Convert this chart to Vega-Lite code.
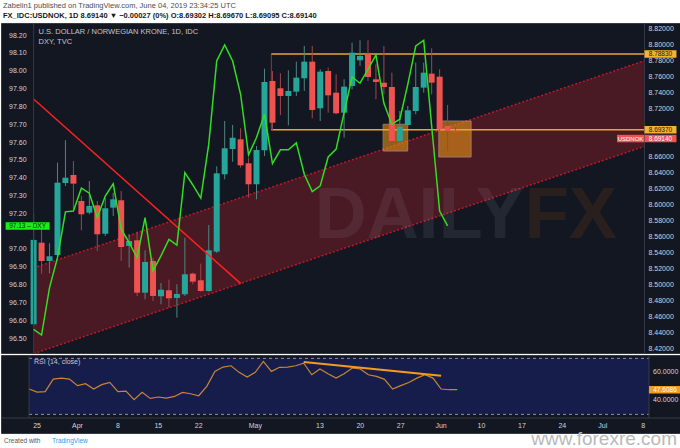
{
  "$schema": "https://vega.github.io/schema/vega-lite/v6.json",
  "background": "#ffffff",
  "padding": {"top": 2, "left": 0, "right": 0, "bottom": 0},
  "autosize": {"type": "pad"},
  "spacing": 0,
  "title": {
    "text": "Zabelin1 published on TradingView.com, June 04, 2019 23:34:25 UTC",
    "subtitle": "FX_IDC:USDNOK, 1D  8.69140 ▼ −0.00027 (0%)  O:8.69302  H:8.69670  L:8.69095  C:8.69140",
    "anchor": "start", "frame": "bounds", "dx": 3, "offset": 3,
    "font": "Liberation Sans", "fontSize": 7.5, "fontWeight": "normal", "color": "#4a4d57",
    "subtitleFont": "Liberation Sans", "subtitleFontSize": 7.5, "subtitleFontWeight": "bold", "subtitleColor": "#131722", "subtitlePadding": 2
  },
  "config": {
    "view": {"fill": "#131722", "stroke": "#363a45", "strokeWidth": 1},
    "axis": {"gridColor": "#2b2f3b"}
  },
  "datasets": {
    "candles": [
      {"date":"2019-03-22","i":-1,"o":8.4505,"h":8.5884,"l":8.448,"c":8.556,"dxy":96.552,"rsi":48.1},
      {"date":"2019-03-25","i":0,"o":8.5525,"h":8.5734,"l":8.5138,"c":8.5296,"dxy":96.52,"rsi":45.9},
      {"date":"2019-03-26","i":1,"o":8.5296,"h":8.5518,"l":8.5142,"c":8.5355,"dxy":96.786,"rsi":46.2},
      {"date":"2019-03-27","i":2,"o":8.5371,"h":8.6525,"l":8.5337,"c":8.6275,"dxy":96.954,"rsi":55.2},
      {"date":"2019-03-28","i":3,"o":8.6271,"h":8.6805,"l":8.6234,"c":8.6337,"dxy":97.211,"rsi":55.9},
      {"date":"2019-03-29","i":4,"o":8.6371,"h":8.6546,"l":8.5921,"c":8.6263,"dxy":97.216,"rsi":55.2},
      {"date":"2019-04-01","i":5,"o":8.6046,"h":8.6109,"l":8.568,"c":8.588,"dxy":97.344,"rsi":50.5},
      {"date":"2019-04-02","i":6,"o":8.59,"h":8.6296,"l":8.588,"c":8.5984,"dxy":97.316,"rsi":51.9},
      {"date":"2019-04-03","i":7,"o":8.5992,"h":8.6046,"l":8.5421,"c":8.563,"dxy":97.179,"rsi":48.1},
      {"date":"2019-04-04","i":8,"o":8.5637,"h":8.6088,"l":8.5609,"c":8.5955,"dxy":97.3,"rsi":51.2},
      {"date":"2019-04-05","i":9,"o":8.5963,"h":8.615,"l":8.5859,"c":8.6067,"dxy":97.369,"rsi":52.8},
      {"date":"2019-04-08","i":10,"o":8.6055,"h":8.6171,"l":8.5296,"c":8.5471,"dxy":97.114,"rsi":46.2},
      {"date":"2019-04-09","i":11,"o":8.5484,"h":8.563,"l":8.5213,"c":8.5546,"dxy":97.038,"rsi":46.6},
      {"date":"2019-04-10","i":12,"o":8.5555,"h":8.5663,"l":8.4859,"c":8.49,"dxy":96.954,"rsi":40.5},
      {"date":"2019-04-11","i":13,"o":8.49,"h":8.543,"l":8.4817,"c":8.5284,"dxy":97.179,"rsi":45.7},
      {"date":"2019-04-12","i":14,"o":8.5296,"h":8.5337,"l":8.4796,"c":8.4859,"dxy":96.88,"rsi":41.4},
      {"date":"2019-04-15","i":15,"o":8.4855,"h":8.5021,"l":8.4755,"c":8.4937,"dxy":96.964,"rsi":42.4},
      {"date":"2019-04-16","i":16,"o":8.493,"h":8.5063,"l":8.4713,"c":8.483,"dxy":97.057,"rsi":41.6},
      {"date":"2019-04-17","i":17,"o":8.4834,"h":8.5005,"l":8.4588,"c":8.4884,"dxy":97.025,"rsi":42.8},
      {"date":"2019-04-18","i":18,"o":8.488,"h":8.5588,"l":8.4859,"c":8.513,"dxy":97.431,"rsi":45.7},
      {"date":"2019-04-19","i":19,"o":8.5138,"h":8.515,"l":8.5005,"c":8.5038,"dxy":97.362,"rsi":44.7},
      {"date":"2019-04-22","i":20,"o":8.5055,"h":8.5263,"l":8.4913,"c":8.4921,"dxy":97.288,"rsi":43.3},
      {"date":"2019-04-23","i":21,"o":8.4921,"h":8.5746,"l":8.4913,"c":8.543,"dxy":97.591,"rsi":50.0},
      {"date":"2019-04-24","i":22,"o":8.5413,"h":8.648,"l":8.5396,"c":8.6392,"dxy":98.058,"rsi":60.7},
      {"date":"2019-04-25","i":23,"o":8.638,"h":8.7046,"l":8.6317,"c":8.6705,"dxy":98.148,"rsi":63.8},
      {"date":"2019-04-26","i":24,"o":8.6696,"h":8.6996,"l":8.6537,"c":8.6837,"dxy":98.058,"rsi":64.7},
      {"date":"2019-04-29","i":25,"o":8.6817,"h":8.6955,"l":8.6463,"c":8.6492,"dxy":97.871,"rsi":60.0},
      {"date":"2019-04-30","i":26,"o":8.6517,"h":8.6587,"l":8.6088,"c":8.6255,"dxy":97.531,"rsi":56.6},
      {"date":"2019-05-01","i":27,"o":8.6255,"h":8.6734,"l":8.6067,"c":8.6684,"dxy":97.628,"rsi":60.0},
      {"date":"2019-05-02","i":28,"o":8.668,"h":8.77,"l":8.6609,"c":8.7534,"dxy":97.759,"rsi":67.8},
      {"date":"2019-05-03","i":29,"o":8.7546,"h":8.7671,"l":8.6921,"c":8.7025,"dxy":97.482,"rsi":60.7},
      {"date":"2019-05-06","i":30,"o":8.7455,"h":8.7643,"l":8.7121,"c":8.7359,"dxy":97.559,"rsi":63.6},
      {"date":"2019-05-07","i":31,"o":8.7359,"h":8.768,"l":8.6993,"c":8.7421,"dxy":97.559,"rsi":63.8},
      {"date":"2019-05-08","i":32,"o":8.7413,"h":8.7788,"l":8.7359,"c":8.7588,"dxy":97.598,"rsi":64.7},
      {"date":"2019-05-09","i":33,"o":8.758,"h":8.7984,"l":8.7421,"c":8.7788,"dxy":97.422,"rsi":66.6},
      {"date":"2019-05-10","i":34,"o":8.7788,"h":8.7984,"l":8.708,"c":8.7184,"dxy":97.325,"rsi":58.3},
      {"date":"2019-05-13","i":35,"o":8.7205,"h":8.7693,"l":8.7046,"c":8.7663,"dxy":97.357,"rsi":62.4},
      {"date":"2019-05-14","i":36,"o":8.7671,"h":8.7713,"l":8.715,"c":8.7367,"dxy":97.519,"rsi":59.0},
      {"date":"2019-05-15","i":37,"o":8.74,"h":8.763,"l":8.713,"c":8.7142,"dxy":97.563,"rsi":55.9},
      {"date":"2019-05-16","i":38,"o":8.715,"h":8.7567,"l":8.6838,"c":8.7475,"dxy":97.768,"rsi":59.0},
      {"date":"2019-05-17","i":39,"o":8.7484,"h":8.8025,"l":8.7442,"c":8.79,"dxy":97.968,"rsi":63.1},
      {"date":"2019-05-20","i":40,"o":8.7805,"h":8.8055,"l":8.7734,"c":8.7859,"dxy":97.933,"rsi":62.4},
      {"date":"2019-05-21","i":41,"o":8.788,"h":8.8055,"l":8.7546,"c":8.7596,"dxy":98.011,"rsi":58.3},
      {"date":"2019-05-22","i":42,"o":8.7567,"h":8.7755,"l":8.7317,"c":8.7534,"dxy":98.092,"rsi":57.1},
      {"date":"2019-05-23","i":43,"o":8.7525,"h":8.7984,"l":8.738,"c":8.7471,"dxy":97.82,"rsi":55.0},
      {"date":"2019-05-24","i":44,"o":8.7471,"h":8.765,"l":8.6775,"c":8.6796,"dxy":97.703,"rsi":48.1},
      {"date":"2019-05-27","i":45,"o":8.6796,"h":8.7171,"l":8.6755,"c":8.6975,"dxy":97.731,"rsi":50.5},
      {"date":"2019-05-28","i":46,"o":8.6996,"h":8.7234,"l":8.6984,"c":8.718,"dxy":97.927,"rsi":52.8},
      {"date":"2019-05-29","i":47,"o":8.7171,"h":8.7775,"l":8.713,"c":8.7471,"dxy":98.142,"rsi":55.9},
      {"date":"2019-05-30","i":48,"o":8.7463,"h":8.7775,"l":8.74,"c":8.765,"dxy":98.174,"rsi":58.3},
      {"date":"2019-05-31","i":49,"o":8.7638,"h":8.7955,"l":8.738,"c":8.7525,"dxy":97.693,"rsi":55.9},
      {"date":"2019-06-03","i":50,"o":8.76,"h":8.7693,"l":8.6921,"c":8.6942,"dxy":97.216,"rsi":48.1},
      {"date":"2019-06-04","i":51,"o":8.6984,"h":8.7246,"l":8.6671,"c":8.6921,"dxy":97.132,"rsi":47.6},
      {"date":"2019-06-05","i":52,"o":8.69302,"h":8.6967,"l":8.69095,"c":8.6914,"dxy":null,"rsi":47.6}
    ],
    "channel": [{"i":-1.0,"upper":8.5209,"lower":8.4138},{"i":75.73,"upper":8.78,"lower":8.6729}],
    "trend": [{"i":-0.97,"v":8.7318},{"i":25.02,"v":8.5013}],
    "levels": [{"i1":28.86,"i2":75.73,"v":8.7883,"label":"8.78830"},{"i1":28.86,"i2":75.73,"v":8.6937,"label":"8.69370"}],
    "zone": [{"i":28.86,"top":8.7883,"bottom":8.6937}],
    "boxes": [{"i1":42.9,"i2":45.99,"top":8.7005,"bottom":8.6671},{"i1":49.9,"i2":53.95,"top":8.7046,"bottom":8.6596}],
    "last": [{"v":8.6914,"label":"8.69140","symbol":"USDNOK"}],
    "dxyLast": [{"v":97.132,"label":"97.13 – DXY"}],
    "rsiTrend": [{"i":33,"v":67.4},{"i":50,"v":57.6}],
    "rsiBand": [{"hi":70,"lo":30}],
    "rsiLast": [{"v":47.6,"label":"47.6086"}],
    "ticksR": [{"v":8.42},{"v":8.44},{"v":8.46},{"v":8.48},{"v":8.5},{"v":8.52},{"v":8.54},{"v":8.56},{"v":8.58},{"v":8.6},{"v":8.62},{"v":8.64},{"v":8.66},{"v":8.72},{"v":8.74},{"v":8.76},{"v":8.78},{"v":8.8},{"v":8.82}],
    "ticksL": [{"v":96.5},{"v":96.6},{"v":96.7},{"v":96.8},{"v":96.9},{"v":97.0},{"v":97.2},{"v":97.3},{"v":97.4},{"v":97.5},{"v":97.6},{"v":97.7},{"v":97.8},{"v":97.9},{"v":98.0},{"v":98.1},{"v":98.2}],
    "ticksRsi": [{"v":40},{"v":60}],
    "ticksX": [{"i":0,"label":"25"},{"i":5,"label":"Apr"},{"i":10,"label":"8"},{"i":15,"label":"15"},{"i":20,"label":"22"},{"i":27,"label":"May"},{"i":35,"label":"13"},{"i":40,"label":"20"},{"i":45,"label":"27"},{"i":50,"label":"Jun"},{"i":55,"label":"10"},{"i":60,"label":"17"},{"i":65,"label":"24"},{"i":70,"label":"Jul"},{"i":75,"label":"8"}]
  },
  "vconcat": [
    {
      "width": 680, "height": 330,
      "resolve": {"scale": {"y": "independent"}},
      "layer": [
        {
          "layer": [
            {
              "data": {"name": "channel"},
              "mark": {"type": "area", "color": "#c81e2a", "opacity": 0.3, "clip": true},
              "encoding": {
                "x": {"field": "i", "type": "quantitative", "scale": {"domain": [-4.468, 79.69], "nice": false, "zero": false}, "axis": null},
                "y": {"field": "upper", "type": "quantitative", "scale": {"domain": [8.4146, 8.8271], "nice": false, "zero": false},
                      "axis": {"orient": "right", "labels": false, "ticks": false, "domain": false, "grid": true, "title": null,
                               "values": [8.42,8.44,8.46,8.48,8.5,8.52,8.54,8.56,8.58,8.6,8.62,8.64,8.66,8.68,8.7,8.72,8.74,8.76,8.78,8.8,8.82]}},
                "y2": {"field": "lower"}
              }
            },
            {
              "data": {"name": "channel"},
              "mark": {"type": "line", "color": "#c0182a", "strokeDash": [2, 2], "strokeWidth": 1.5, "clip": true},
              "encoding": {
                "x": {"field": "i", "type": "quantitative", "scale": {"domain": [-4.468, 79.69], "nice": false, "zero": false}, "axis": null},
                "y": {"field": "upper", "type": "quantitative", "scale": {"domain": [8.4146, 8.8271], "nice": false, "zero": false}, "axis": null}
              }
            },
            {
              "data": {"name": "channel"},
              "mark": {"type": "line", "color": "#c0182a", "strokeDash": [2, 2], "strokeWidth": 1.5, "clip": true},
              "encoding": {
                "x": {"field": "i", "type": "quantitative", "scale": {"domain": [-4.468, 79.69], "nice": false, "zero": false}, "axis": null},
                "y": {"field": "lower", "type": "quantitative", "scale": {"domain": [8.4146, 8.8271], "nice": false, "zero": false}, "axis": null}
              }
            },
            {
              "data": {"values": [{}]},
              "mark": {"type": "text", "text": "DAILY", "font": "Liberation Sans", "fontWeight": "bold", "fontSize": 72, "align": "right", "baseline": "middle", "color": "#ffffff", "opacity": 0.065},
              "encoding": {
                "x": {"datum": 60.6, "type": "quantitative", "scale": {"domain": [-4.468, 79.69], "nice": false, "zero": false}, "axis": null},
                "y": {"datum": 8.586, "type": "quantitative", "scale": {"domain": [8.4146, 8.8271], "nice": false, "zero": false}, "axis": null}
              }
            },
            {
              "data": {"values": [{}]},
              "mark": {"type": "text", "text": "FX", "font": "Liberation Sans", "fontWeight": "bold", "fontSize": 72, "align": "left", "baseline": "middle", "color": "#ff7a00", "opacity": 0.09},
              "encoding": {
                "x": {"datum": 60.7, "type": "quantitative", "scale": {"domain": [-4.468, 79.69], "nice": false, "zero": false}, "axis": null},
                "y": {"datum": 8.586, "type": "quantitative", "scale": {"domain": [8.4146, 8.8271], "nice": false, "zero": false}, "axis": null}
              }
            },
            {
              "data": {"name": "boxes"},
              "mark": {"type": "rect", "color": "#f39c12", "opacity": 0.55, "stroke": "#ecc7a8", "strokeWidth": 1, "strokeOpacity": 1},
              "encoding": {
                "x": {"field": "i1", "type": "quantitative", "scale": {"domain": [-4.468, 79.69], "nice": false, "zero": false}, "axis": null},
                "x2": {"field": "i2"},
                "y": {"field": "top", "type": "quantitative", "scale": {"domain": [8.4146, 8.8271], "nice": false, "zero": false}, "axis": null},
                "y2": {"field": "bottom"}
              }
            },
            {
              "data": {"name": "zone"},
              "mark": {"type": "rule", "color": "#8c3a32", "strokeWidth": 1},
              "encoding": {
                "x": {"field": "i", "type": "quantitative", "scale": {"domain": [-4.468, 79.69], "nice": false, "zero": false}, "axis": null},
                "y": {"field": "top", "type": "quantitative", "scale": {"domain": [8.4146, 8.8271], "nice": false, "zero": false}, "axis": null},
                "y2": {"field": "bottom"}
              }
            },
            {
              "data": {"name": "levels"},
              "mark": {"type": "rule", "color": "#e6a634", "strokeWidth": 1.5},
              "encoding": {
                "x": {"field": "i1", "type": "quantitative", "scale": {"domain": [-4.468, 79.69], "nice": false, "zero": false}, "axis": null},
                "x2": {"field": "i2"},
                "y": {"field": "v", "type": "quantitative", "scale": {"domain": [8.4146, 8.8271], "nice": false, "zero": false}, "axis": null}
              }
            },
            {
              "data": {"name": "candles"},
              "mark": {"type": "rule", "strokeWidth": 1, "clip": true},
              "encoding": {
                "x": {"field": "i", "type": "quantitative", "scale": {"domain": [-4.468, 79.69], "nice": false, "zero": false}, "axis": null},
                "y": {"field": "l", "type": "quantitative", "scale": {"domain": [8.4146, 8.8271], "nice": false, "zero": false}, "axis": null},
                "y2": {"field": "h"},
                "color": {"condition": {"test": "datum.c >= datum.o", "value": "#4f8582"}, "value": "#a3454b"}
              }
            },
            {
              "data": {"name": "candles"},
              "mark": {"type": "bar", "width": 6, "clip": true},
              "encoding": {
                "x": {"field": "i", "type": "quantitative", "scale": {"domain": [-4.468, 79.69], "nice": false, "zero": false},
                      "axis": {"values": [0,5,10,15,20,27,35,40,45,50,55,60,65,70,75], "grid": true, "labels": false, "domain": false, "ticks": false, "title": null}},
                "y": {"field": "o", "type": "quantitative", "scale": {"domain": [8.4146, 8.8271], "nice": false, "zero": false}, "axis": null},
                "y2": {"field": "c"},
                "color": {"condition": {"test": "datum.c >= datum.o", "value": "#26a69a"}, "value": "#ef5350"}
              }
            },
            {
              "data": {"name": "trend"},
              "mark": {"type": "line", "color": "#ff2020", "strokeWidth": 1.5},
              "encoding": {
                "x": {"field": "i", "type": "quantitative", "scale": {"domain": [-4.468, 79.69], "nice": false, "zero": false}, "axis": null},
                "y": {"field": "v", "type": "quantitative", "scale": {"domain": [8.4146, 8.8271], "nice": false, "zero": false}, "axis": null}
              }
            },
            {
              "data": {"values": [{}]},
              "mark": {"type": "rule", "color": "#363a45", "strokeWidth": 1},
              "encoding": {
                "x": {"datum": -1.0, "type": "quantitative", "scale": {"domain": [-4.468, 79.69], "nice": false, "zero": false}, "axis": null}
              }
            },
            {
              "data": {"values": [{}]},
              "mark": {"type": "rule", "color": "#363a45", "strokeWidth": 1},
              "encoding": {
                "x": {"datum": 75.73, "type": "quantitative", "scale": {"domain": [-4.468, 79.69], "nice": false, "zero": false}, "axis": null}
              }
            },
            {
              "data": {"name": "ticksR"},
              "mark": {"type": "text", "dx": 4, "fontSize": 7, "font": "Liberation Sans", "color": "#d1d4dc", "align": "left", "baseline": "middle"},
              "encoding": {
                "x": {"datum": 75.73, "type": "quantitative", "scale": {"domain": [-4.468, 79.69], "nice": false, "zero": false}, "axis": null},
                "y": {"field": "v", "type": "quantitative", "scale": {"domain": [8.4146, 8.8271], "nice": false, "zero": false}, "axis": null},
                "text": {"field": "v", "type": "quantitative", "format": ".5f"}
              }
            },
            {
              "data": {"name": "levels"},
              "mark": {"type": "point", "shape": "M-1,-0.234H1V0.234H-1Z", "size": 1024, "filled": true, "opacity": 1, "color": "#f2b233", "xOffset": 16},
              "encoding": {
                "x": {"datum": 75.73, "type": "quantitative", "scale": {"domain": [-4.468, 79.69], "nice": false, "zero": false}, "axis": null},
                "y": {"field": "v", "type": "quantitative", "scale": {"domain": [8.4146, 8.8271], "nice": false, "zero": false}, "axis": null}
              }
            },
            {
              "data": {"name": "levels"},
              "mark": {"type": "text", "xOffset": 16, "fontSize": 6.5, "font": "Liberation Sans", "color": "#131722", "align": "center", "baseline": "middle"},
              "encoding": {
                "x": {"datum": 75.73, "type": "quantitative", "scale": {"domain": [-4.468, 79.69], "nice": false, "zero": false}, "axis": null},
                "y": {"field": "v", "type": "quantitative", "scale": {"domain": [8.4146, 8.8271], "nice": false, "zero": false}, "axis": null},
                "text": {"field": "label"}
              }
            },
            {
              "data": {"name": "last"},
              "mark": {"type": "point", "shape": "M-1,-0.234H1V0.234H-1Z", "size": 1024, "filled": true, "opacity": 1, "color": "#ef5350", "xOffset": 16, "yOffset": 7},
              "encoding": {
                "x": {"datum": 75.73, "type": "quantitative", "scale": {"domain": [-4.468, 79.69], "nice": false, "zero": false}, "axis": null},
                "y": {"field": "v", "type": "quantitative", "scale": {"domain": [8.4146, 8.8271], "nice": false, "zero": false}, "axis": null}
              }
            },
            {
              "data": {"name": "last"},
              "mark": {"type": "text", "xOffset": 16, "yOffset": 7, "fontSize": 6.5, "font": "Liberation Sans", "color": "#ffffff", "align": "center", "baseline": "middle"},
              "encoding": {
                "x": {"datum": 75.73, "type": "quantitative", "scale": {"domain": [-4.468, 79.69], "nice": false, "zero": false}, "axis": null},
                "y": {"field": "v", "type": "quantitative", "scale": {"domain": [8.4146, 8.8271], "nice": false, "zero": false}, "axis": null},
                "text": {"field": "label"}
              }
            },
            {
              "data": {"name": "last"},
              "mark": {"type": "point", "shape": "M-1,-0.278H1V0.278H-1Z", "size": 729, "filled": true, "opacity": 1, "color": "#ef5350", "xOffset": -14, "yOffset": 7},
              "encoding": {
                "x": {"datum": 75.73, "type": "quantitative", "scale": {"domain": [-4.468, 79.69], "nice": false, "zero": false}, "axis": null},
                "y": {"field": "v", "type": "quantitative", "scale": {"domain": [8.4146, 8.8271], "nice": false, "zero": false}, "axis": null}
              }
            },
            {
              "data": {"name": "last"},
              "mark": {"type": "text", "xOffset": -14, "yOffset": 7, "fontSize": 6, "font": "Liberation Sans", "color": "#ffffff", "align": "center", "baseline": "middle"},
              "encoding": {
                "x": {"datum": 75.73, "type": "quantitative", "scale": {"domain": [-4.468, 79.69], "nice": false, "zero": false}, "axis": null},
                "y": {"field": "v", "type": "quantitative", "scale": {"domain": [8.4146, 8.8271], "nice": false, "zero": false}, "axis": null},
                "text": {"field": "symbol"}
              }
            },
            {
              "data": {"values": [{}]},
              "mark": {"type": "text", "text": "U.S. DOLLAR / NORWEGIAN KRONE, 1D, IDC", "dx": 5, "fontSize": 7.5, "font": "Liberation Sans", "color": "#c3c6ce", "align": "left", "baseline": "middle"},
              "encoding": {
                "x": {"datum": -1.0, "type": "quantitative", "scale": {"domain": [-4.468, 79.69], "nice": false, "zero": false}, "axis": null},
                "y": {"datum": 8.8159, "type": "quantitative", "scale": {"domain": [8.4146, 8.8271], "nice": false, "zero": false}, "axis": null}
              }
            },
            {
              "data": {"values": [{}]},
              "mark": {"type": "text", "text": "DXY, TVC", "dx": 5, "fontSize": 7.5, "font": "Liberation Sans", "color": "#c3c6ce", "align": "left", "baseline": "middle"},
              "encoding": {
                "x": {"datum": -1.0, "type": "quantitative", "scale": {"domain": [-4.468, 79.69], "nice": false, "zero": false}, "axis": null},
                "y": {"datum": 8.8034, "type": "quantitative", "scale": {"domain": [8.4146, 8.8271], "nice": false, "zero": false}, "axis": null}
              }
            }
          ]
        },
        {
          "layer": [
            {
              "data": {"name": "candles"},
              "mark": {"type": "line", "color": "#33dd22", "strokeWidth": 1.5},
              "encoding": {
                "x": {"field": "i", "type": "quantitative", "scale": {"domain": [-4.468, 79.69], "nice": false, "zero": false}, "axis": null},
                "y": {"field": "dxy", "type": "quantitative", "scale": {"domain": [96.419, 98.271], "nice": false, "zero": false}, "axis": null}
              }
            },
            {
              "data": {"name": "ticksL"},
              "mark": {"type": "text", "dx": -7, "fontSize": 7, "font": "Liberation Sans", "color": "#d1d4dc", "align": "right", "baseline": "middle"},
              "encoding": {
                "x": {"datum": -1.0, "type": "quantitative", "scale": {"domain": [-4.468, 79.69], "nice": false, "zero": false}, "axis": null},
                "y": {"field": "v", "type": "quantitative", "scale": {"domain": [96.419, 98.271], "nice": false, "zero": false}, "axis": null},
                "text": {"field": "v", "type": "quantitative", "format": ".2f"}
              }
            },
            {
              "data": {"name": "dxyLast"},
              "mark": {"type": "point", "shape": "M-1,-0.173H1V0.173H-1Z", "size": 1936, "filled": true, "opacity": 1, "color": "#19ee19", "xOffset": -6},
              "encoding": {
                "x": {"datum": -1.0, "type": "quantitative", "scale": {"domain": [-4.468, 79.69], "nice": false, "zero": false}, "axis": null},
                "y": {"field": "v", "type": "quantitative", "scale": {"domain": [96.419, 98.271], "nice": false, "zero": false}, "axis": null}
              }
            },
            {
              "data": {"name": "dxyLast"},
              "mark": {"type": "text", "xOffset": -6, "fontSize": 6.5, "font": "Liberation Sans", "color": "#0b2b0b", "align": "center", "baseline": "middle"},
              "encoding": {
                "x": {"datum": -1.0, "type": "quantitative", "scale": {"domain": [-4.468, 79.69], "nice": false, "zero": false}, "axis": null},
                "y": {"field": "v", "type": "quantitative", "scale": {"domain": [96.419, 98.271], "nice": false, "zero": false}, "axis": null},
                "text": {"field": "label"}
              }
            }
          ]
        }
      ]
    },
    {
      "width": 680, "height": 78,
      "layer": [
        {
          "data": {"name": "rsiBand"},
          "mark": {"type": "rect", "color": "#1e2aa0", "opacity": 0.33},
          "encoding": {
            "x": {"datum": -1.0, "type": "quantitative", "scale": {"domain": [-4.468, 79.69], "nice": false, "zero": false}, "axis": null},
            "x2": {"datum": 75.73},
            "y": {"field": "hi", "type": "quantitative", "scale": {"domain": [16.69, 72.4], "nice": false, "zero": false}, "axis": null},
            "y2": {"field": "lo"}
          }
        },
        {
          "data": {"name": "rsiBand"},
          "mark": {"type": "rule", "color": "#8f929b", "strokeWidth": 1, "strokeDash": [3, 3]},
          "encoding": {
            "x": {"datum": -1.0, "type": "quantitative", "scale": {"domain": [-4.468, 79.69], "nice": false, "zero": false}, "axis": null},
            "x2": {"datum": 75.73},
            "y": {"field": "hi", "type": "quantitative", "scale": {"domain": [16.69, 72.4], "nice": false, "zero": false}, "axis": null}
          }
        },
        {
          "data": {"name": "rsiBand"},
          "mark": {"type": "rule", "color": "#8f929b", "strokeWidth": 1, "strokeDash": [3, 3]},
          "encoding": {
            "x": {"datum": -1.0, "type": "quantitative", "scale": {"domain": [-4.468, 79.69], "nice": false, "zero": false}, "axis": null},
            "x2": {"datum": 75.73},
            "y": {"field": "lo", "type": "quantitative", "scale": {"domain": [16.69, 72.4], "nice": false, "zero": false}, "axis": null}
          }
        },
        {
          "data": {"name": "candles"},
          "mark": {"type": "line", "color": "#c8862f", "strokeWidth": 1.2},
          "encoding": {
            "x": {"field": "i", "type": "quantitative", "scale": {"domain": [-4.468, 79.69], "nice": false, "zero": false},
                  "axis": {"values": [0,5,10,15,20,27,35,40,45,50,55,60,65,70,75], "grid": true, "labels": false, "domain": false, "ticks": false, "title": null}},
            "y": {"field": "rsi", "type": "quantitative", "scale": {"domain": [16.69, 72.4], "nice": false, "zero": false},
                  "axis": {"orient": "right", "values": [40, 60], "grid": true, "gridColor": "#333a66", "labels": false, "domain": false, "ticks": false, "title": null}}
          }
        },
        {
          "data": {"name": "rsiTrend"},
          "mark": {"type": "line", "color": "#f59b1f", "strokeWidth": 2},
          "encoding": {
            "x": {"field": "i", "type": "quantitative", "scale": {"domain": [-4.468, 79.69], "nice": false, "zero": false}, "axis": null},
            "y": {"field": "v", "type": "quantitative", "scale": {"domain": [16.69, 72.4], "nice": false, "zero": false}, "axis": null}
          }
        },
        {
          "data": {"values": [{}]},
          "mark": {"type": "rule", "color": "#363a45", "strokeWidth": 1},
          "encoding": {
            "y": {"datum": 27.4, "type": "quantitative", "scale": {"domain": [16.69, 72.4], "nice": false, "zero": false}, "axis": null}
          }
        },
        {
          "data": {"values": [{}]},
          "mark": {"type": "rule", "color": "#363a45", "strokeWidth": 1},
          "encoding": {
            "x": {"datum": -1.0, "type": "quantitative", "scale": {"domain": [-4.468, 79.69], "nice": false, "zero": false}, "axis": null},
            "y": {"datum": 72.4, "type": "quantitative", "scale": {"domain": [16.69, 72.4], "nice": false, "zero": false}, "axis": null},
            "y2": {"datum": 27.4}
          }
        },
        {
          "data": {"values": [{}]},
          "mark": {"type": "rule", "color": "#363a45", "strokeWidth": 1},
          "encoding": {
            "x": {"datum": 75.73, "type": "quantitative", "scale": {"domain": [-4.468, 79.69], "nice": false, "zero": false}, "axis": null},
            "y": {"datum": 72.4, "type": "quantitative", "scale": {"domain": [16.69, 72.4], "nice": false, "zero": false}, "axis": null},
            "y2": {"datum": 27.4}
          }
        },
        {
          "data": {"name": "ticksRsi"},
          "mark": {"type": "text", "dx": 4, "fontSize": 7, "font": "Liberation Sans", "color": "#d1d4dc", "align": "left", "baseline": "middle"},
          "encoding": {
            "x": {"datum": 75.73, "type": "quantitative", "scale": {"domain": [-4.468, 79.69], "nice": false, "zero": false}, "axis": null},
            "y": {"field": "v", "type": "quantitative", "scale": {"domain": [16.69, 72.4], "nice": false, "zero": false}, "axis": null},
            "text": {"field": "v", "type": "quantitative", "format": ".4f"}
          }
        },
        {
          "data": {"name": "ticksX"},
          "mark": {"type": "text", "fontSize": 7, "font": "Liberation Sans", "color": "#d1d4dc", "align": "center", "baseline": "middle"},
          "encoding": {
            "x": {"field": "i", "type": "quantitative", "scale": {"domain": [-4.468, 79.69], "nice": false, "zero": false}, "axis": null},
            "y": {"datum": 21.69, "type": "quantitative", "scale": {"domain": [16.69, 72.4], "nice": false, "zero": false}, "axis": null},
            "text": {"field": "label"}
          }
        },
        {
          "data": {"name": "rsiLast"},
          "mark": {"type": "point", "shape": "M-1,-0.234H1V0.234H-1Z", "size": 1024, "filled": true, "opacity": 1, "color": "#f59b1f", "xOffset": 16},
          "encoding": {
            "x": {"datum": 75.73, "type": "quantitative", "scale": {"domain": [-4.468, 79.69], "nice": false, "zero": false}, "axis": null},
            "y": {"field": "v", "type": "quantitative", "scale": {"domain": [16.69, 72.4], "nice": false, "zero": false}, "axis": null}
          }
        },
        {
          "data": {"name": "rsiLast"},
          "mark": {"type": "text", "xOffset": 16, "fontSize": 6.5, "font": "Liberation Sans", "color": "#ffffff", "align": "center", "baseline": "middle"},
          "encoding": {
            "x": {"datum": 75.73, "type": "quantitative", "scale": {"domain": [-4.468, 79.69], "nice": false, "zero": false}, "axis": null},
            "y": {"field": "v", "type": "quantitative", "scale": {"domain": [16.69, 72.4], "nice": false, "zero": false}, "axis": null},
            "text": {"field": "label"}
          }
        },
        {
          "data": {"values": [{}]},
          "mark": {"type": "text", "text": "RSI (14, close)", "dx": 5, "fontSize": 7, "font": "Liberation Sans", "color": "#c3c6ce", "align": "left", "baseline": "middle"},
          "encoding": {
            "x": {"datum": -1.0, "type": "quantitative", "scale": {"domain": [-4.468, 79.69], "nice": false, "zero": false}, "axis": null},
            "y": {"datum": 67.4, "type": "quantitative", "scale": {"domain": [16.69, 72.4], "nice": false, "zero": false}, "axis": null}
          }
        },
        {
          "data": {"values": [{}]},
          "mark": {"type": "text", "text": "Created with", "dx": 3, "fontSize": 6.5, "font": "Liberation Sans", "color": "#555555", "align": "left", "baseline": "middle"},
          "encoding": {
            "x": {"datum": -4.468, "type": "quantitative", "scale": {"domain": [-4.468, 79.69], "nice": false, "zero": false}, "axis": null},
            "y": {"datum": 10.97, "type": "quantitative", "scale": {"domain": [16.69, 72.4], "nice": false, "zero": false}, "axis": null}
          }
        },
        {
          "data": {"values": [{}]},
          "mark": {"type": "text", "text": "TradingView", "dx": 51, "fontSize": 6.5, "font": "Liberation Sans", "color": "#2a9df4", "align": "left", "baseline": "middle"},
          "encoding": {
            "x": {"datum": -4.468, "type": "quantitative", "scale": {"domain": [-4.468, 79.69], "nice": false, "zero": false}, "axis": null},
            "y": {"datum": 10.97, "type": "quantitative", "scale": {"domain": [16.69, 72.4], "nice": false, "zero": false}, "axis": null}
          }
        },
        {
          "data": {"values": [{}]},
          "mark": {"type": "text", "text": "www.forexre.com", "dx": -4, "fontSize": 19, "font": "Liberation Sans", "color": "#b9b9b9", "align": "right", "baseline": "middle"},
          "encoding": {
            "x": {"datum": 79.69, "type": "quantitative", "scale": {"domain": [-4.468, 79.69], "nice": false, "zero": false}, "axis": null},
            "y": {"datum": 12.4, "type": "quantitative", "scale": {"domain": [16.69, 72.4], "nice": false, "zero": false}, "axis": null}
          }
        }
      ]
    }
  ]
}
